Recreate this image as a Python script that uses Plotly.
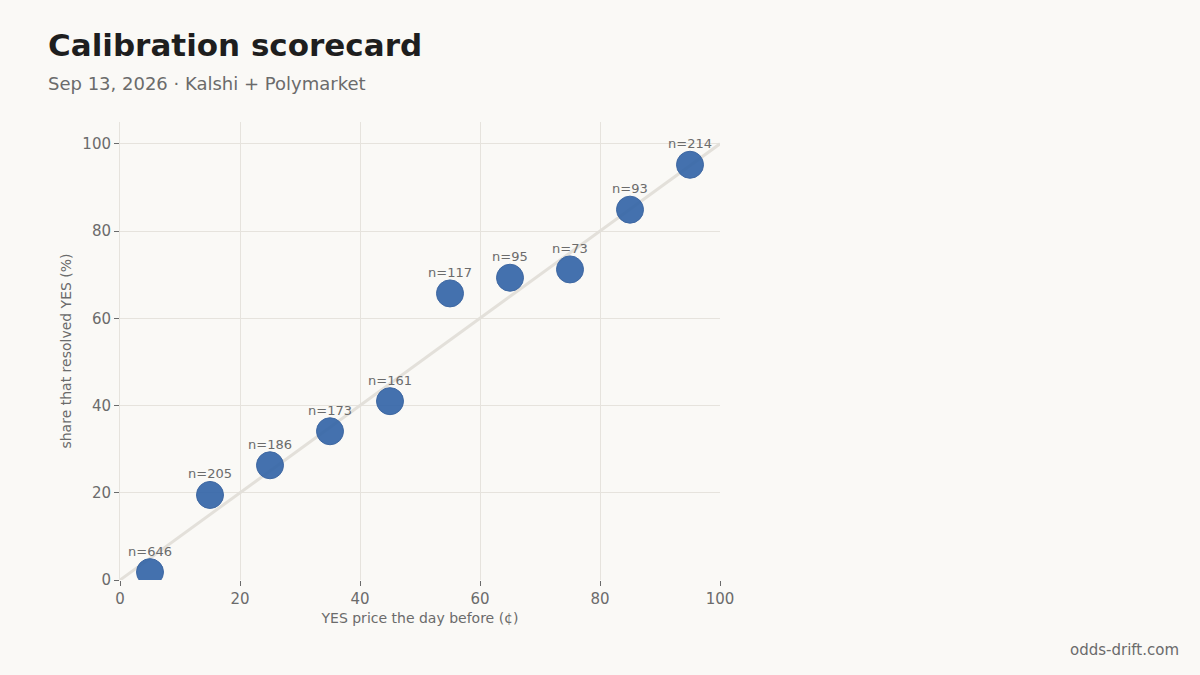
import plotly.graph_objects as go

price_bins = [5, 15, 25, 35, 45, 55, 65, 75, 85, 95]
resolved_yes = [1.8, 19.5, 26.3, 34.1, 41.0, 65.7, 69.3, 71.2, 84.9, 95.2]
counts = [646, 205, 186, 173, 161, 117, 95, 73, 93, 214]
diag = [0, 100]

grey = "#6b6b6b"
bg = "#faf9f6"

fig = go.Figure()
fig.add_trace(go.Scatter(
    x=diag, y=diag, mode="lines",
    line=dict(color="#e3e0da", width=3),
    hoverinfo="skip", showlegend=False,
))
fig.add_trace(go.Scatter(
    x=price_bins, y=resolved_yes, mode="markers",
    marker=dict(size=27, color="#3566a8", opacity=0.92,
                line=dict(color="#2f5c9c", width=1)),
    showlegend=False,
))

# n= labels above each dot
notes = [dict(x=x, y=y, text="n=%d" % n, showarrow=False, yshift=21,
              font=dict(size=13, color=grey))
         for x, y, n in zip(price_bins, resolved_yes, counts)]

notes += [
    dict(text="<b>Calibration scorecard</b>", xref="paper", yref="paper",
         x=-0.123, y=1.168, xanchor="left", yanchor="middle", showarrow=False,
         font=dict(size=31, color="#1e1e1e")),
    dict(text="Sep 13, 2026 · Kalshi + Polymarket", xref="paper", yref="paper",
         x=-0.123, y=1.085, xanchor="left", yanchor="middle", showarrow=False,
         font=dict(size=18, color=grey)),
    dict(text="odds-drift.com", xref="paper", yref="paper",
         x=1.768, y=-0.153, xanchor="right", yanchor="middle", showarrow=False,
         font=dict(size=15, color=grey)),
]

fig.update_layout(
    width=1200, height=675,
    paper_bgcolor=bg, plot_bgcolor=bg,
    font=dict(family="DejaVu Sans", color=grey),
    margin=dict(l=120, r=480, t=122, b=95),
    xaxis=dict(
        range=[0, 100], dtick=20, showgrid=True, gridcolor="#e6e3dd",
        zeroline=False, showline=False, ticks="outside", ticklen=5,
        tickcolor=grey, tickfont=dict(size=15, color=grey),
        title=dict(text="YES price the day before (¢)", standoff=6,
                   font=dict(size=14, color=grey)),
    ),
    yaxis=dict(
        range=[0, 105], dtick=20, showgrid=True, gridcolor="#e6e3dd",
        zeroline=False, showline=True, linecolor="#e6e3dd", ticks="outside", ticklen=5,
        tickcolor=grey, tickfont=dict(size=15, color=grey),
        title=dict(text="share that resolved YES (%)", standoff=7,
                   font=dict(size=14, color=grey)),
    ),
    annotations=notes,
)

fig.write_html("out.html", config={"displayModeBar": False},
               post_script="document.body.style.margin='0';document.body.style.background='%s';" % bg)
